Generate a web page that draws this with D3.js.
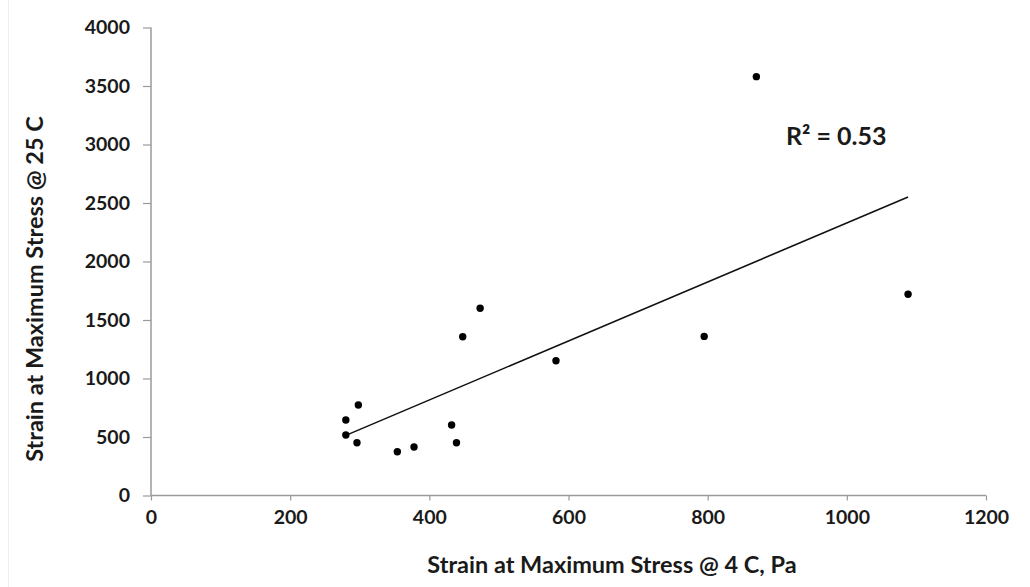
<!DOCTYPE html>
<html>
<head>
<meta charset="utf-8">
<script src="https://cdn.jsdelivr.net/npm/d3@7"></script>
<style>
  html, body { margin: 0; padding: 0; background: #ffffff; }
  svg { display: block; }
  text { font-family: Lato, "Open Sans", sans-serif; font-weight: bold; fill: #1a1a1a; }
</style>
</head>
<body>
<svg id="chart" width="1030" height="587"></svg>
<script>
// Data
const strain4C  = [870, 1088, 795, 473, 448, 298, 280, 280, 296, 354, 378, 432, 439, 582];
const strain25C = [3580, 1720, 1360, 1600, 1357, 773, 645, 517, 451, 374, 414, 602, 451, 1152];
const xTicks = [0, 200, 400, 600, 800, 1000, 1200];
const yTicks = [0, 500, 1000, 1500, 2000, 2500, 3000, 3500, 4000];
const r2Label = "R² = 0.53";
const xTitle = "Strain at Maximum Stress @ 4 C, Pa";
const yTitle = "Strain at Maximum Stress @ 25 C";

const svg = d3.select("#chart");
const W = 1030, H = 587;
const m = { left: 151, right: 1030 - 986, top: 27.5, bottom: 587 - 495.5 };

const x = d3.scaleLinear().domain([0, 1200]).range([m.left, W - m.right]);
const y = d3.scaleLinear().domain([0, 4000]).range([H - m.bottom, m.top]);

// faint frame line at left
svg.append("line").attr("x1", 8.5).attr("x2", 8.5).attr("y1", 0).attr("y2", H)
  .attr("stroke", "#eeeeee").attr("stroke-width", 1);

const axisColor = "#9a9a9a";

// X axis
const gx = svg.append("g").attr("transform", `translate(0,${y(0)})`)
  .call(d3.axisBottom(x).tickValues(xTicks).tickSize(5).tickPadding(10).tickFormat(d3.format("d")));
// Y axis
const gy = svg.append("g").attr("transform", `translate(${x(0)},0)`)
  .call(d3.axisLeft(y).tickValues(yTicks).tickSize(8).tickPadding(13).tickFormat(d3.format("d")));

[gx, gy].forEach(g => {
  g.select(".domain").attr("stroke", axisColor).attr("stroke-width", 1.5);
  g.selectAll(".tick line").attr("stroke", axisColor).attr("stroke-width", 1.2);
  g.selectAll(".tick text").style("font-size", "19.5px").style("font-family", "Lato, sans-serif")
    .style("font-weight", "bold").attr("fill", "#1a1a1a");
});
gx.select(".domain").attr("d", `M${x(0)},0H${x(1200)}`);
gy.select(".domain").attr("d", `M0,${y(0)}V${y(4000)}`);

// Linear regression trendline
const pts = strain4C.map((v, i) => ({ x: v, y: strain25C[i] }));
const mx = d3.mean(pts, d => d.x), my = d3.mean(pts, d => d.y);
const slope = d3.sum(pts, d => (d.x - mx) * (d.y - my)) / d3.sum(pts, d => (d.x - mx) ** 2);
const intercept = my - slope * mx;
const [x0, x1] = d3.extent(strain4C);
svg.append("line")
  .attr("x1", x(x0)).attr("y1", y(intercept + slope * x0))
  .attr("x2", x(x1)).attr("y2", y(intercept + slope * x1))
  .attr("stroke", "#111").attr("stroke-width", 1.6);

// Points
svg.append("g").selectAll("circle").data(pts).join("circle")
  .attr("cx", d => x(d.x)).attr("cy", d => y(d.y)).attr("r", 3.7)
  .attr("fill", "#000");

// R² label
svg.append("text").attr("x", 786).attr("y", 145)
  .style("font-size", "25px").text(r2Label);

// Axis titles
svg.append("text").attr("x", 612).attr("y", 573).attr("text-anchor", "middle")
  .style("font-size", "23.5px").text(xTitle);
svg.append("text").attr("transform", `translate(43,289) rotate(-90)`).attr("text-anchor", "middle")
  .style("font-size", "23.5px").text(yTitle);
</script>
</body>
</html>
